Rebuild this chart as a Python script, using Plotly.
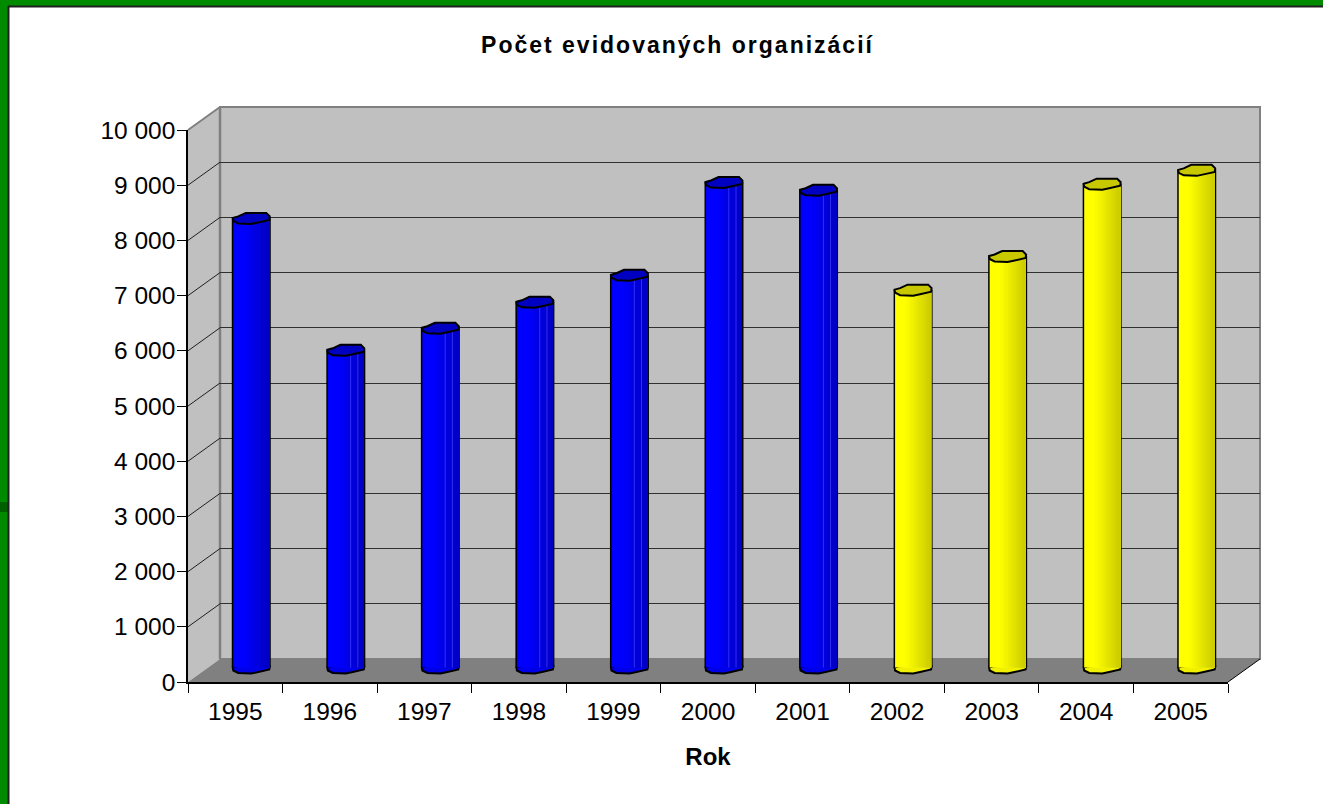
import plotly.graph_objects as go

years = [1995, 1996, 1997, 1998, 1999, 2000, 2001, 2002, 2003, 2004, 2005]
counts = [8145, 5755, 6155, 6625, 7115, 8795, 8655, 6845, 7455, 8765, 9015]
colour_group = ["blue"] * 7 + ["yellow"] * 4
y_ticks = [0, 1000, 2000, 3000, 4000, 5000, 6000, 7000, 8000, 9000, 10000]
y_labels = ["0", "1 000", "2 000", "3 000", "4 000", "5 000", "6 000", "7 000", "8 000", "9 000", "10 000"]
title = "Počet evidovaných organizácií"
x_title = "Rok"

W, H = 1323, 804
FONT = "Liberation Sans, Arial, sans-serif"
FX0, FX1 = 188, 1228   # front axis
FY0, FY1 = 682, 130
DX, DY = 32, 23
PX_PER_UNIT = 552 / 10000
CAT = (FX1 - FX0) / 11
BAR_W = 36 / CAT
PAD = 200              # room below zero on the bar axis for the base of each column


def xd(a, b):
    return [a / W, b / W]


def yd(bottom, top):
    return [(H - bottom) / H, (H - top) / H]


def px(x):
    return x / W


def py(y):
    return (H - y) / H


def lerp(c0, c1, t):
    return "rgb(%d,%d,%d)" % tuple(round(a + (b - a) * t) for a, b in zip(c0, c1))


RAMP = {"blue": ((0, 0, 255), (0, 0, 190)), "yellow": ((255, 255, 0), (200, 200, 0))}
TOP = {"blue": "#0000c0", "yellow": "#c8c800"}
FLOOR_FILL = {"blue": "#0000e8", "yellow": "#f0f000"}

fig = go.Figure()

# Invisible carrier traces for the front axes and the back wall axes
fig.add_trace(go.Scatter(x=[str(v) for v in years], y=counts, xaxis="x", yaxis="y", mode="markers",
                         marker=dict(opacity=0), hoverinfo="skip", showlegend=False))
fig.add_trace(go.Scatter(x=years, y=counts, xaxis="x2", yaxis="y2", mode="markers",
                         marker=dict(opacity=0), hoverinfo="skip", showlegend=False))

# Column: black silhouette, then overlapping shade slices
fig.add_trace(go.Bar(x=years, y=counts, xaxis="x3", yaxis="y3", width=39 / CAT,
                     marker=dict(color="#000000", line=dict(width=0)), showlegend=False, hoverinfo="skip"))
N = 14
for i in range(N):
    t = i / N
    shade = max(0, (t - 0.25) / 0.75)
    left = -BAR_W / 2 + BAR_W * t
    fig.add_trace(go.Bar(
        x=years, y=counts, xaxis="x3", yaxis="y3",
        offset=left, width=BAR_W / 2 - left,
        marker=dict(color=[lerp(*RAMP[g], shade) for g in colour_group], line=dict(width=0)),
        showlegend=False, hoverinfo="skip"))

# Thin lighter facet lines seen on the blue columns after 1995
for t in (0.62, 0.82):
    fig.add_trace(go.Bar(
        x=years, y=counts, xaxis="x3", yaxis="y3",
        offset=-BAR_W / 2 + BAR_W * t, width=1 / CAT,
        marker=dict(color=["rgba(70,70,255,%s)" % (0 if (g != "blue" or v == 1995) else 0.7)
                           for g, v in zip(colour_group, years)], line=dict(width=0)),
        showlegend=False, hoverinfo="skip"))

shapes = []


def poly(pts, **kw):
    path = "M" + " L".join(f"{px(x):.5f},{py(y):.5f}" for x, y in pts) + " Z"
    shapes.append(dict(type="path", path=path, xref="paper", yref="paper", layer="below", **kw))


def seg(x0, y0, x1, y1, color, width, layer="below"):
    shapes.append(dict(type="line", xref="paper", yref="paper", layer=layer,
                       x0=px(x0), y0=py(y0), x1=px(x1), y1=py(y1),
                       line=dict(color=color, width=width)))


# Page frame
GREEN = "#008a00"
shapes.append(dict(type="rect", xref="paper", yref="paper", layer="below", x0=0, x1=px(8), y0=0, y1=1,
                   fillcolor=GREEN, line=dict(width=0)))
shapes.append(dict(type="rect", xref="paper", yref="paper", layer="below", x0=0, x1=1, y0=py(6), y1=1,
                   fillcolor=GREEN, line=dict(width=0)))
shapes.append(dict(type="rect", xref="paper", yref="paper", layer="below", x0=0, x1=px(8), y0=py(512), y1=py(502),
                   fillcolor="#005f00", line=dict(width=0)))
seg(8.5, 6, 8.5, H, "#202020", 2)
seg(8, 6.5, W, 6.5, "#202020", 2)

# Walls and floor
poly([(FX0 + DX, FY1 - DY), (FX1 + DX, FY1 - DY), (FX1 + DX, FY0 - DY), (FX0 + DX, FY0 - DY)],
     fillcolor="#c0c0c0", line=dict(color="#808080", width=2))
poly([(FX0, FY1), (FX0 + DX, FY1 - DY), (FX0 + DX, FY0 - DY), (FX0, FY0)],
     fillcolor="#c0c0c0", line=dict(width=0))
poly([(FX0, FY0), (FX0 + DX, FY0 - DY), (FX1 + DX, FY0 - DY), (FX1, FY0)],
     fillcolor="#808080", line=dict(width=0))
seg(FX0, FY1, FX0 + DX, FY1 - DY, "#808080", 2)
seg(FX0 + DX, FY1 - DY, FX0 + DX, FY0 - DY, "#808080", 2.5)
seg(FX1, FY0, FX1 + DX, FY0 - DY, "#000000", 1)
for v in y_ticks[1:-1]:
    yy = FY0 - v * PX_PER_UNIT
    seg(FX0, yy, FX0 + DX, yy - DY, "#202020", 1)

# Column caps and bases: scalloped outline in pixels round each value
OUTLINE = [(-18.5, 0), (-13, 1.5), (-5.5, 5), (15, 5), (18.5, 1.5), (18, -2), (7, -4.5),
           (0, -6), (-13, -5.5), (-18, -3)]


def cap(year, value, fill, layer):
    path = "M" + " L".join(f"{year + a / CAT:.4f},{b}" for a, b in OUTLINE) + " Z"
    shapes.append(dict(type="path", path=path, xref="x3", yref="y3", ysizemode="pixel", yanchor=value,
                       fillcolor=fill, line=dict(color="#000000", width=2), layer=layer))


for year, value, group in zip(years, counts, colour_group):
    cap(year, 0, FLOOR_FILL[group], "below")
    cap(year, value, TOP[group], "above")

fig.update_layout(
    width=W, height=H, autosize=False,
    margin=dict(l=0, r=0, t=0, b=0, autoexpand=False),
    paper_bgcolor="#ffffff", plot_bgcolor="rgba(0,0,0,0)",
    barmode="overlay", showlegend=False,
    font=dict(family=FONT, color="#000000", size=24),
    title=dict(text=f"<b>{title}</b>", x=677.5 / W, xanchor="center", xref="paper",
               y=py(45), yanchor="middle", yref="paper", font=dict(size=23, family=FONT, color="#000000")),
    xaxis=dict(domain=xd(FX0, FX1), type="category", range=[-0.5, 10.5], tickson="boundaries", ticks="outside",
               ticklen=9, tickwidth=1, tickcolor="#000000", showline=True, linecolor="#000000", linewidth=2,
               showgrid=False, zeroline=False, tickfont=dict(size=24.5), automargin=False, ticklabelstandoff=7,
               title=dict(text=f"<b>{x_title}</b>", font=dict(size=24), standoff=24), anchor="y"),
    yaxis=dict(domain=yd(FY0, FY1), range=[0, 10000], tickvals=y_ticks, ticktext=y_labels, ticks="outside",
               ticklen=9, tickwidth=1, tickcolor="#000000", showline=True, linecolor="#000000", linewidth=1.5,
               showgrid=False, zeroline=False, tickfont=dict(size=24.5), automargin=False, ticklabelstandoff=-3,
               anchor="x"),
    xaxis2=dict(domain=xd(FX0 + DX, FX1 + DX), range=[years[0] - 0.5, years[-1] + 0.5], visible=False, anchor="y2"),
    yaxis2=dict(domain=yd(FY0 - DY, FY1 - DY), range=[0, 10000], tickvals=y_ticks, showticklabels=False, ticks="",
                showgrid=True, gridcolor="#303030", gridwidth=1, zeroline=False, showline=False, anchor="x2"),
    xaxis3=dict(domain=xd(FX0 + DX / 2, FX1 + DX / 2), range=[years[0] - 0.5, years[-1] + 0.5], visible=False,
                anchor="y3"),
    yaxis3=dict(domain=yd(667.5 + PAD * PX_PER_UNIT, 115.5), range=[-PAD, 10000], visible=False, anchor="x3"),
    shapes=shapes,
)

fig.write_html("out.html", config=dict(displayModeBar=False),
               post_script="document.body.style.margin='0';document.body.style.overflow='hidden';"
                           "document.querySelectorAll('.gtitle').forEach(function(e){e.style.letterSpacing='2px';});")
